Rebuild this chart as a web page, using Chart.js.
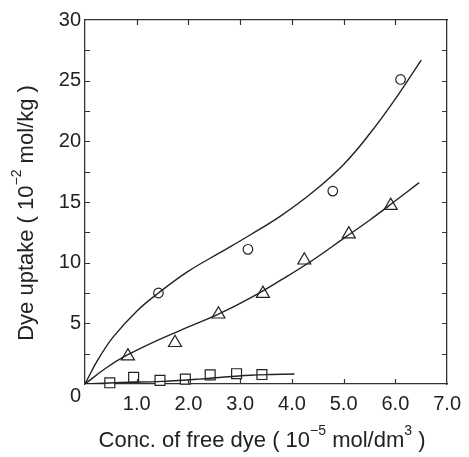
<!DOCTYPE html>
<html>
<head>
<meta charset="utf-8">
<script src="https://cdn.jsdelivr.net/npm/chart.js@4/dist/chart.umd.min.js"></script>
<style>
  html, body { margin: 0; padding: 0; background: #fff; }
  #wrap { width: 469px; height: 457px; }
</style>
</head>
<body>
<div id="wrap"><canvas id="c" width="469" height="457"></canvas></div>
<script>
// --- data ---
const circleX = [1.42, 3.15, 4.79, 6.10];
const circleY = [7.5, 11.1, 15.9, 25.1];
const triX = [0.83, 1.74, 2.58, 3.44, 4.24, 5.10, 5.91];
const triY = [2.3, 3.4, 5.75, 7.45, 10.2, 12.35, 14.7];
const sqX = [0.48, 0.94, 1.45, 1.94, 2.42, 2.93, 3.42];
const sqY = [0.1, 0.55, 0.3, 0.4, 0.75, 0.85, 0.78];

// fitted curves (traced)
const circleFitX = [0, 0.25, 0.55, 1.0, 1.42, 2.0, 2.6, 3.2, 3.8, 4.4, 5.0, 5.5, 6.0, 6.5];
const circleFitY = [0, 2.0, 3.9, 6.0, 7.5, 9.3, 10.8, 12.3, 13.9, 15.8, 18.1, 20.6, 23.5, 26.7];
const triFitX = [0, 0.4, 0.8, 1.4, 2.0, 2.6, 3.2, 3.8, 4.4, 5.0, 5.5, 6.0, 6.46];
const triFitY = [0, 1.3, 2.35, 3.6, 4.7, 5.8, 7.1, 8.6, 10.2, 12.0, 13.5, 15.1, 16.6];
const sqFitX = [0, 0.7, 1.5, 2.2, 2.7, 3.2, 3.6, 4.05];
const sqFitY = [0, 0.12, 0.22, 0.4, 0.58, 0.72, 0.78, 0.82];

// axis text
const xTitleParts = [['Conc. of free dye ( 10', false], ['\u22125', true], [' mol/dm', false], ['3', true], [' )', false]];
const yTitleParts = [['Dye uptake ( 10', false], ['\u22122', true], [' mol/kg )', false]];

const INK = '#222';
const FONT = '"Liberation Sans", Arial, sans-serif';

const pts = (xs, ys) => xs.map((x, i) => ({ x, y: ys[i] }));

function marker(style, xs, ys, r) {
  return {
    type: 'scatter', data: pts(xs, ys), pointStyle: style, pointRadius: r,
    pointBackgroundColor: '#fff', pointBorderColor: INK, pointBorderWidth: 1.2,
    showLine: false, clip: false
  };
}
function fit(xs, ys) {
  return {
    type: 'line', data: pts(xs, ys), borderColor: INK, borderWidth: 1.4,
    pointRadius: 0, tension: 0.4, fill: false
  };
}

// rich text with superscripts
function drawParts(ctx, parts, x, y) {
  let w = 0;
  parts.forEach(([t, sup]) => { ctx.font = (sup ? '14px ' : '22px ') + FONT; w += ctx.measureText(t).width; });
  let cx = x - w / 2;
  parts.forEach(([t, sup]) => {
    ctx.font = (sup ? '14px ' : '22px ') + FONT;
    ctx.fillText(t, cx, sup ? y - 12 : y);
    cx += ctx.measureText(t).width;
  });
}

const frame = {
  id: 'frame',
  afterDraw(chart) {
    const ctx = chart.ctx, a = chart.chartArea;
    const xs = chart.scales.x, ys = chart.scales.y;
    ctx.save();
    ctx.strokeStyle = '#333';
    ctx.lineWidth = 1.2;
    ctx.beginPath();
    xs.ticks.forEach(t => {
      if (t.value <= 0 || t.value >= 7) return;
      const px = Math.round(xs.getPixelForValue(t.value)) + 0.5;
      ctx.moveTo(px, a.bottom); ctx.lineTo(px, a.bottom - 5);
      ctx.moveTo(px, a.top); ctx.lineTo(px, a.top + 5);
    });
    ys.ticks.forEach(t => {
      if (t.value <= 0 || t.value >= 30) return;
      const py = Math.round(ys.getPixelForValue(t.value)) + 0.5;
      ctx.moveTo(a.left, py); ctx.lineTo(a.left + 5, py);
      ctx.moveTo(a.right, py); ctx.lineTo(a.right - 5, py);
    });
    ctx.stroke();

    ctx.fillStyle = INK;
    ctx.textBaseline = 'alphabetic';
    ctx.textAlign = 'left';
    // lone origin label, sits a little below the axis
    ctx.font = '20px ' + FONT;
    ctx.fillText('0', 70, 402);
    // x title
    drawParts(ctx, xTitleParts, 262, 447);
    // y title (rotated)
    ctx.translate(33, 213);
    ctx.rotate(-Math.PI / 2);
    drawParts(ctx, yTitleParts, 0, 0);
    ctx.restore();
  }
};

new Chart(document.getElementById('c'), {
  data: {
    datasets: [
      fit(circleFitX, circleFitY),
      fit(triFitX, triFitY),
      fit(sqFitX, sqFitY),
      marker('circle', circleX, circleY, 4.8),
      marker('triangle', triX, triY, 7.5),
      marker('rect', sqX, sqY, 7)
    ]
  },
  options: {
    responsive: false,
    animation: false,
    layout: { padding: { left: 0, right: 17, top: 20, bottom: 0 } },
    plugins: { legend: { display: false }, tooltip: { enabled: false } },
    scales: {
      x: {
        type: 'linear', min: 0, max: 7, position: 'bottom',
        ticks: {
          stepSize: 1, color: INK, padding: 8,
          font: { family: FONT, size: 20 },
          callback: v => (v === 0 ? '' : v.toFixed(1))
        },
        grid: { display: true, drawOnChartArea: false, drawTicks: false },
        border: { color: '#333', width: 1.3 },
        afterFit: s => { s.height = 73; }
      },
      x2: {
        type: 'linear', min: 0, max: 7, position: 'top',
        ticks: { display: false },
        grid: { display: true, drawOnChartArea: false, drawTicks: false },
        border: { color: '#333', width: 1.3 },
        afterFit: s => { s.height = 0; }
      },
      y: {
        type: 'linear', min: 0, max: 30, position: 'left',
        ticks: {
          stepSize: 2.5, color: INK, padding: 4,
          font: { family: FONT, size: 20 },
          callback: v => (v !== 0 && v % 5 === 0 ? String(v) : '')
        },
        grid: { display: true, drawOnChartArea: false, drawTicks: false },
        border: { color: '#333', width: 1.3 },
        afterFit: s => { s.width = 85; }
      },
      y2: {
        type: 'linear', min: 0, max: 30, position: 'right',
        ticks: { display: false },
        grid: { display: true, drawOnChartArea: false, drawTicks: false },
        border: { color: '#333', width: 1.3 },
        afterFit: s => { s.width = 0; }
      }
    }
  },
  plugins: [frame]
});
</script>
</body>
</html>
